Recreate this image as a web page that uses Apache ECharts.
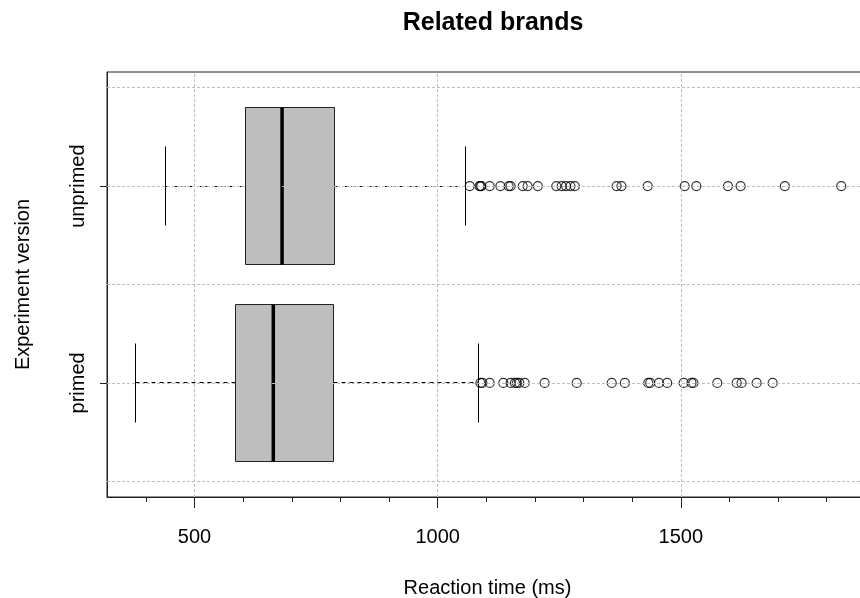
<!DOCTYPE html>
<html>
<head>
<meta charset="utf-8">
<title>Related brands</title>
<script src="https://cdn.jsdelivr.net/npm/echarts@6/dist/echarts.min.js"></script>
<style>
  html, body { margin: 0; padding: 0; background: #fff; }
  #chart { width: 860px; height: 598px; }
</style>
</head>
<body>
<div id="chart"></div>
<script>
// 组别（y 轴位置 1 = primed, 2 = unprimed）
const groupNames = ['primed', 'unprimed'];
const groupPos = [1, 2];

// 箱线图五数（ms）
const whiskerLow = [379, 441];
const q1 = [584, 605];
const median = [662, 680];
const q3 = [786, 789];
const whiskerHigh = [1083, 1058];

// 离群点
const outliersPrimed = [1088, 1092, 1107, 1135, 1150, 1159, 1163, 1168, 1179, 1220, 1286, 1358, 1385,
  1433, 1437, 1455, 1472, 1506, 1522, 1526, 1575, 1615, 1625, 1656, 1689];
const outliersUnprimed = [1066, 1086, 1088, 1090, 1107, 1129, 1146, 1150, 1175, 1185, 1206, 1244, 1255,
  1264, 1273, 1282, 1368, 1378, 1432, 1508, 1532, 1597, 1623, 1714, 1830];

// 刻度
const majorTicks = [500, 1000, 1500];
const minorTicks = [400, 500, 600, 700, 800, 900, 1000, 1100, 1200, 1300, 1400, 1500, 1600, 1700, 1800];
const gridY = [0.5, 1, 1.5, 2, 2.5];

const chart = echarts.init(document.getElementById('chart'));

// 箱体数据 [y, low, q1, median, q3, high]
const boxData = groupPos.map((p, i) => [p, whiskerLow[i], q1[i], median[i], q3[i], whiskerHigh[i]]);

// 离群点数据
const outlierData = []
outliersPrimed.forEach(v => outlierData.push([v, groupPos[0]]));
outliersUnprimed.forEach(v => outlierData.push([v, groupPos[1]]));

// 对齐到半像素，让 1px 线条清晰
const snap = v => Math.round(v - 0.5) + 0.5;

// 画一个箱线图
function renderBox(params, api) {
    const y = api.value(0);
    const pt = (x, dy) => api.coord([x, y + dy]);
    const lo = api.value(1), a = api.value(2), m = api.value(3), b = api.value(4), hi = api.value(5);
    const black = { stroke: '#000', lineWidth: 1 };
    const dashed = { stroke: '#000', lineWidth: 1, lineDash: [4, 4] };
    const line = (p1, p2, style) => ({
        type: 'line',
        shape: { x1: snap(p1[0]), y1: snap(p1[1]), x2: snap(p2[0]), y2: snap(p2[1]) },
        style: style
    });
    const tl = pt(a, 0.4), br = pt(b, -0.4);
    return {
        type: 'group',
        children: [
            line(pt(lo, 0), pt(a, 0), dashed),
            line(pt(b, 0), pt(hi, 0), dashed),
            line(pt(lo, 0.2), pt(lo, -0.2), black),
            line(pt(hi, 0.2), pt(hi, -0.2), black),
            {
                type: 'rect',
                shape: { x: snap(tl[0]), y: snap(tl[1]), width: Math.round(br[0] - tl[0]), height: Math.round(br[1] - tl[1]) },
                style: { fill: '#bebebe', stroke: '#222', lineWidth: 1 }
            },
            {
                type: 'line',
                shape: { x1: pt(m, 0)[0], y1: tl[1], x2: pt(m, 0)[0], y2: br[1] },
                style: { stroke: '#000', lineWidth: 3.5 }
            }
        ]
    };
}

const xMin = 320, xMax = 1885;

const option = {
    animation: false,
    title: {
        text: 'Related brands',
        left: 488,
        top: 6,
        textAlign: 'center',
        textStyle: { fontFamily: 'Liberation Sans', fontSize: 25, fontWeight: 'bold', color: '#000' }
    },
    grid: {
        left: 107, top: 72, width: 761, height: 425,
        outerBoundsMode: 'none',
        containLabel: false,
        show: true, borderColor: '#222', borderWidth: 1
    },
    xAxis: [
        {
            type: 'value', min: xMin, max: xMax, position: 'bottom',
            name: 'Reaction time (ms)', nameLocation: 'middle', nameGap: 81,
            nameTextStyle: { fontFamily: 'Liberation Sans', fontSize: 20, color: '#000' },
            axisLine: { show: true, lineStyle: { color: '#222' } },
            axisTick: { show: true, customValues: majorTicks, length: 11, lineStyle: { color: '#222' } },
            axisLabel: {
                customValues: majorTicks, margin: 30,
                fontFamily: 'Liberation Sans', fontSize: 20, color: '#000',
                formatter: v => String(v)
            },
            splitLine: { show: false }
        },
        {
            type: 'value', min: xMin, max: xMax, position: 'bottom',
            axisLine: { show: false },
            axisTick: { show: true, customValues: minorTicks, length: 5, lineStyle: { color: '#222' } },
            axisLabel: { show: false },
            splitLine: { show: false }
        }
    ],
    yAxis: {
        type: 'value', min: 0.42, max: 2.58,
        name: 'Experiment version', nameLocation: 'middle', nameGap: 74,
        nameTextStyle: { fontFamily: 'Liberation Sans', fontSize: 20, color: '#000' },
        axisLine: { show: true, lineStyle: { color: '#222' } },
        axisTick: { show: true, customValues: groupPos, length: 7, lineStyle: { color: '#222' } },
        axisLabel: {
            customValues: groupPos, rotate: 90, margin: 19,
            fontFamily: 'Liberation Sans', fontSize: 20, color: '#000',
            formatter: v => groupNames[groupPos.indexOf(v)] || ''
        },
        splitLine: { show: false }
    },
    series: [
        {
            name: 'outliers',
            type: 'scatter',
            z: 1,
            data: outlierData,
            symbol: 'circle',
            symbolSize: 9,
            itemStyle: { color: 'rgba(0,0,0,0)', borderColor: '#000', borderWidth: 1.2 },
            markLine: {
                silent: true,
                symbol: 'none',
                label: { show: false },
                lineStyle: { color: '#bdbdbd', type: [3, 2], width: 1 },
                data: majorTicks.map(v => ({ xAxis: v })).concat(gridY.map(v => ({ yAxis: v })))
            }
        },
        {
            name: 'box',
            type: 'custom',
            z: 3,
            renderItem: renderBox,
            encode: { x: [1, 2, 3, 4, 5], y: 0 },
            data: boxData
        }
    ]
};

chart.setOption(option);
</script>
</body>
</html>
